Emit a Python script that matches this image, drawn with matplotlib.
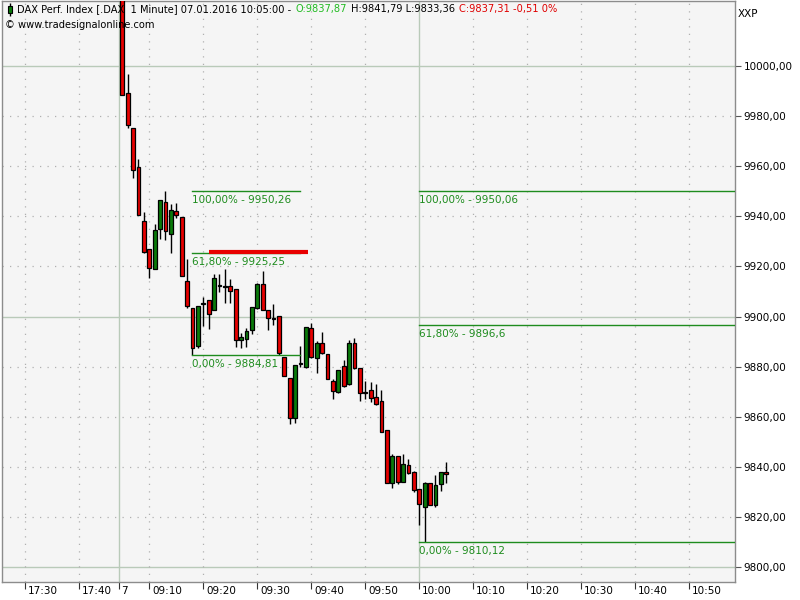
import matplotlib
matplotlib.use("Agg")
import matplotlib.pyplot as plt
import matplotlib.transforms as mtransforms
from matplotlib.offsetbox import TextArea, HPacker, AnchoredOffsetbox
import numpy as np

# bars: minutes relative to 10:00 (09:05 .. 10:05), 1 minute each
t = np.arange(-55, 6)
opens = [10040, 9989.2, 9975.3, 9959.8, 9938.2, 9927.1, 9919.1, 9935.1, 9945.8, 9933.1,
         9942.2, 9939.8, 9914.3, 9903.6, 9888.4, 9904.8, 9906.4, 9902.8, 9912.3, 9912.1,
         9912.0, 9910.8, 9890.8, 9891.2, 9894.8, 9903.6, 9913.1, 9902.8, 9899.6, 9900.4,
         9883.7, 9875.3, 9859.4, 9880.9, 9879.7, 9895.6, 9883.3, 9889.6, 9884.9, 9874.1,
         9869.7, 9880.1, 9872.9, 9889.6, 9879.3, 9869.9, 9870.5, 9867.7, 9866.1, 9854.6,
         9833.5, 9844.2, 9833.9, 9840.6, 9837.9, 9831.1, 9823.9, 9833.5, 9824.7, 9833.1,
         9837.87]
highs = [10045, 9996.8, 9975.3, 9962.9, 9941.8, 9927.1, 9937.0, 9946.6, 9950.26, 9945.0,
         9945.4, 9939.8, 9923.1, 9903.6, 9904.4, 9907.6, 9906.4, 9917.0, 9917.0, 9919.1,
         9915.0, 9910.8, 9893.6, 9895.6, 9904.0, 9913.5, 9918.3, 9902.8, 9904.8, 9900.4,
         9883.7, 9875.3, 9880.5, 9888.4, 9896.0, 9897.6, 9890.4, 9894.0, 9884.9, 9874.9,
         9878.5, 9882.5, 9890.8, 9891.6, 9879.3, 9874.1, 9873.7, 9872.9, 9870.5, 9854.6,
         9845.0, 9844.2, 9845.0, 9843.0, 9838.2, 9831.1, 9833.9, 9833.5, 9836.7, 9837.9,
         9841.79]
lows = [9988.4, 9975.3, 9955.4, 9940.6, 9925.5, 9915.5, 9918.8, 9931.1, 9930.7, 9925.5,
        9939.4, 9916.3, 9903.6, 9884.81, 9887.6, 9896.4, 9895.2, 9902.8, 9909.6, 9905.2,
        9905.2, 9888.0, 9887.6, 9888.0, 9893.2, 9903.2, 9902.8, 9894.8, 9896.8, 9884.5,
        9876.1, 9857.0, 9857.4, 9879.7, 9879.3, 9883.3, 9877.3, 9884.9, 9874.9, 9866.9,
        9869.3, 9871.7, 9872.5, 9878.9, 9866.1, 9866.9, 9865.7, 9864.5, 9853.8, 9833.5,
        9831.5, 9833.1, 9833.9, 9837.0, 9829.9, 9816.7, 9810.12, 9824.7, 9823.9, 9830.3,
        9833.36]
closes = [9988.4, 9976.5, 9958.6, 9940.6, 9925.9, 9919.5, 9934.7, 9946.6, 9934.3, 9942.6,
          9940.6, 9916.3, 9904.4, 9887.6, 9904.4, 9905.2, 9901.2, 9915.5, 9912.7, 9911.7,
          9910.0, 9890.8, 9892.0, 9894.4, 9904.0, 9913.1, 9902.8, 9899.6, 9899.2, 9885.3,
          9876.1, 9859.4, 9880.5, 9881.5, 9896.0, 9883.7, 9889.6, 9885.3, 9874.9, 9870.1,
          9878.5, 9872.1, 9889.6, 9879.3, 9869.3, 9869.5, 9867.3, 9864.9, 9853.8, 9833.5,
          9844.2, 9833.9, 9841.0, 9837.5, 9830.7, 9825.1, 9833.5, 9824.7, 9832.7, 9837.9,
          9837.31]

# x ticks (bar positions) and labels
tick_pos = [-73, -63, -55.7, -50, -40, -30, -20, -10, 0, 10, 20, 30, 40, 50]
tick_lab = ["17:30", "17:40", "7", "09:10", "09:20", "09:30", "09:40", "09:50",
            "10:00", "10:10", "10:20", "10:30", "10:40", "10:50"]

# fibonacci retracements: (start, end, value, label)
fib_left = [(-42, -22, 9950.26, "100,00% - 9950,26"),
            (-42, -22, 9925.25, "61,80% - 9925,25"),
            (-42, -22, 9884.81, "0,00% - 9884,81")]
fib_right = [(0, 60, 9950.06, "100,00% - 9950,06"),
             (0, 60, 9896.6, "61,80% - 9896,6"),
             (0, 60, 9810.12, "0,00% - 9810,12")]

red = "#e80000"
green = "#0a7a0a"
fib_green = "#1e8c1e"

fig = plt.figure(figsize=(8, 6), dpi=100)
ax = fig.add_axes([0.003, 0.03, 0.916, 0.968])
ax.set_facecolor("#f5f5f5")
ax.set_xlim(-77.2, 58.5)
ax.set_ylim(9794.0, 10025.9)

# grid
for v in range(9800, 10020, 20):
    if v % 100 == 0:
        ax.axhline(v, color="#b9cab9", lw=1, zorder=0)
    else:
        ax.axhline(v, color="#b0b0b0", lw=0.9, ls=(0, (1, 5)), zorder=0)
for p in tick_pos:
    if p in (-55.7, 0):
        ax.axvline(p, color="#b9cab9", lw=1, zorder=0)
    else:
        ax.axvline(p, color="#b0b0b0", lw=0.9, ls=(0, (1, 5)), zorder=0)

# candles
o = np.array(opens)
c = np.array(closes)
cols = [green if cc >= oo else red for oo, cc in zip(o, c)]
ax.vlines(t, lows, highs, color="black", lw=1, zorder=2)
ax.bar(t, np.maximum(np.abs(c - o), 0.4), bottom=np.minimum(o, c), width=0.72,
       color=cols, edgecolor="black", linewidth=0.9, zorder=3)

# fibonacci lines
for x0, x1, v, lab in fib_left + fib_right:
    ax.plot([x0, x1], [v, v], color=fib_green, lw=1, zorder=4)
    ax.annotate(lab, (x0, v), xytext=(0, -3), textcoords="offset points",
                ha="left", va="top", color=fib_green, fontsize=7.5, zorder=5)
ax.plot([-39, -20.7], [9925.9, 9925.9], color=red, lw=3, solid_capstyle="butt", zorder=4)

# axes
ax.yaxis.tick_right()
ax.set_yticks(range(9800, 10001, 20))
ax.set_yticklabels([f"{v},00" for v in range(9800, 10001, 20)], fontsize=7.5)
ax.set_xticks(tick_pos)
ax.set_xticklabels(tick_lab, fontsize=7.5)
ax.tick_params(axis="y", length=4, width=0.8, color="#555555", pad=2)
ax.tick_params(axis="x", length=5, width=0.8, color="#333333", pad=-2)
off = mtransforms.ScaledTranslation(2 / 72, 0, fig.dpi_scale_trans)
for lbl in ax.get_xticklabels():
    lbl.set_horizontalalignment("left")
    lbl.set_transform(lbl.get_transform() + off)
for s in ax.spines.values():
    s.set_color("#8c8c8c")
    s.set_linewidth(1)

fig.text(0.922, 0.985, "XXP", fontsize=7.5, va="top", ha="left")

# header
hs = 7.1
parts = [TextArea("DAX Perf. Index [.DAX  1 Minute] 07.01.2016 10:05:00 -",
                  textprops=dict(fontsize=hs, color="black")),
         TextArea("O:9837,87", textprops=dict(fontsize=hs, color="#22bb22")),
         TextArea("H:9841,79 L:9833,36", textprops=dict(fontsize=hs, color="black")),
         TextArea("C:9837,31 -0,51 0%", textprops=dict(fontsize=hs, color="#e00000"))]
box = HPacker(children=parts, align="baseline", pad=0, sep=3)
ab = AnchoredOffsetbox(loc="upper left", child=box, pad=0, borderpad=0, frameon=False,
                       bbox_to_anchor=(17 / 800, 1 - 4 / 600),
                       bbox_transform=fig.transFigure)
fig.add_artist(ab)
fig.text(5 / 800, 1 - 20 / 600, "\u00a9 www.tradesignalonline.com", fontsize=7.1, va="top")

# small candle icon in header
ax.vlines(-75.8, 10019.8, 10025.2, color="black", lw=1, zorder=6)
ax.bar(-75.8, 3.0, bottom=10021.0, width=0.8, color=green, edgecolor="black",
       linewidth=0.8, zorder=7)

fig.savefig("out.png", dpi=100)
